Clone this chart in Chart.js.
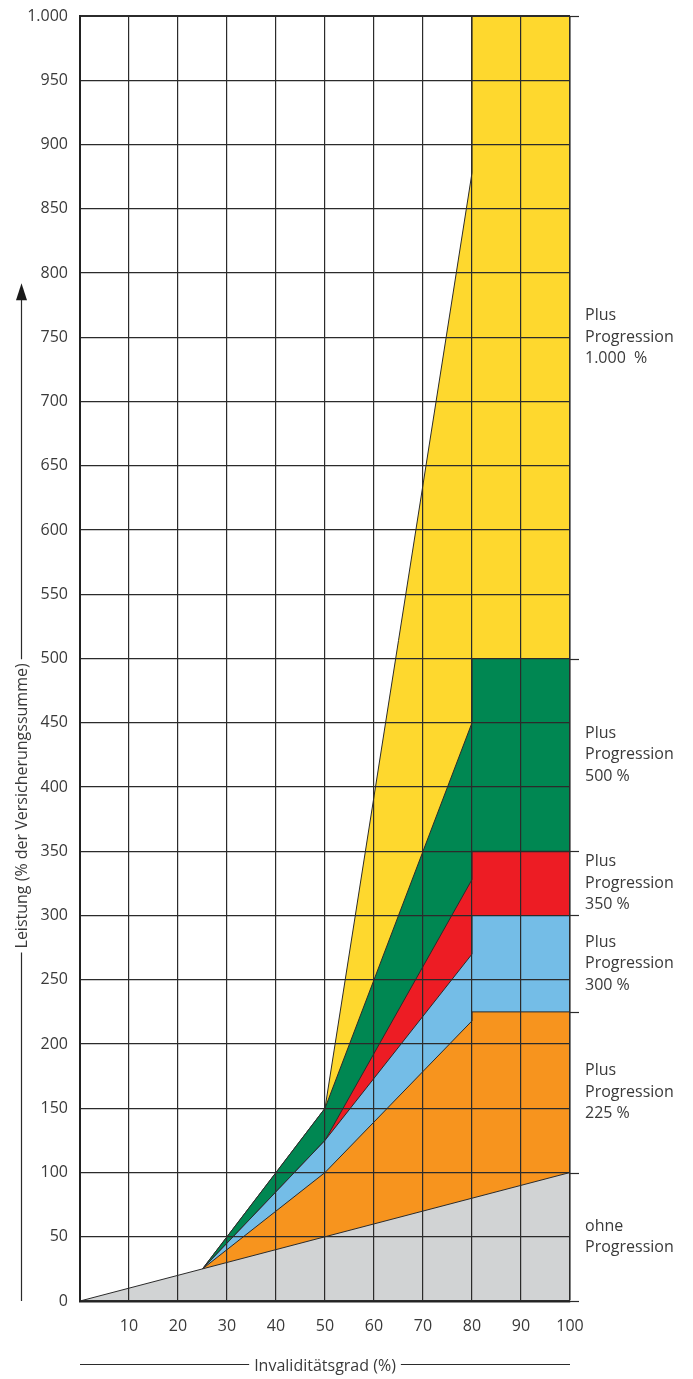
<!DOCTYPE html>
<html>
<head>
<meta charset="utf-8">
<script src="https://cdn.jsdelivr.net/npm/chart.js@4/dist/chart.umd.min.js"></script>
<style>
  html, body { margin: 0; padding: 0; background: #fff; }
  #chart { display: block; }
</style>
</head>
<body>
<canvas id="chart" width="693" height="1379"></canvas>
<script>
'use strict';

// x positions (Invaliditätsgrad %) shared by the progression layers
var progX = [25, 50, 80, 80, 100];

// layer tops (Leistung % der Versicherungssumme)
var ohneX = [0, 100];
var ohneY = [0, 100];
var p225Y = [25, 100, 218, 225, 225];
var p300Y = [25, 125, 270, 300, 300];
var p350Y = [25, 125, 328, 350, 350];
var p500Y = [25, 150, 450, 500, 500];
var p1000Y = [25, 150, 878, 1000, 1000];

// tick labels
var xTicks = [10, 20, 30, 40, 50, 60, 70, 80, 90, 100];

// right-hand band labels and their band limits
var bandLimits = [0, 100, 225, 300, 350, 500, 1000];
var bandLabels = [
    ['ohne', 'Progression'],
    ['Plus', 'Progression', '225 %'],
    ['Plus', 'Progression', '300 %'],
    ['Plus', 'Progression', '350 %'],
    ['Plus', 'Progression', '500 %'],
    ['Plus', 'Progression', '1.000  %']
];

var textColor = '#3a3a3a',
    lineColor = '#2b2b2b',
    font = '"Open Sans", "DejaVu Sans", sans-serif';

function points(xs, ys) {
    return xs.map(function (x, i) { return { x: x, y: ys[i] }; });
}

function layer(data, color) {
    return {
        data: data,
        backgroundColor: color,
        borderColor: lineColor,
        borderWidth: 1,
        fill: 'origin',
        pointRadius: 0,
        tension: 0
    };
}

// extra drawing: band labels, right ticks, axis titles
var decor = {
    id: 'decor',
    afterDraw: function (chart) {
        var ctx = chart.ctx,
            area = chart.chartArea,
            yScale = chart.scales.y;

        ctx.save();
        ctx.strokeStyle = lineColor;
        ctx.lineWidth = 1.2;

        // short ticks right of the plot at band limits
        bandLimits.forEach(function (v) {
            var py = Math.round(yScale.getPixelForValue(v)) + 0.5;
            ctx.beginPath();
            ctx.moveTo(area.right, py);
            ctx.lineTo(area.right + 9, py);
            ctx.stroke();
        });

        // band labels
        ctx.fillStyle = textColor;
        ctx.font = '16px ' + font;
        ctx.textAlign = 'left';
        ctx.textBaseline = 'middle';
        var lh = 21.5;
        bandLabels.forEach(function (lines, i) {
            var mid = yScale.getPixelForValue((bandLimits[i] + bandLimits[i + 1]) / 2);
            var top = mid - (lines.length - 1) * lh / 2;
            lines.forEach(function (t, j) {
                ctx.fillText(t, area.right + 15, top + j * lh);
            });
        });

        // x axis title with lines either side
        ctx.font = '16px ' + font;
        ctx.textAlign = 'center';
        var xt = 'Invaliditätsgrad (%)',
            cx = (area.left + area.right) / 2,
            cy = area.bottom + 65,
            w = ctx.measureText(xt).width;
        ctx.fillText(xt, cx, cy);
        ctx.beginPath();
        ctx.moveTo(area.left, cy - 1.5);
        ctx.lineTo(cx - w / 2 - 5, cy - 1.5);
        ctx.moveTo(cx + w / 2 + 5, cy - 1.5);
        ctx.lineTo(area.right, cy - 1.5);
        ctx.stroke();

        // y axis title, rotated, with line and arrow
        var yt = 'Leistung (% der Versicherungssumme)',
            tx = 22,
            ty = area.top + (area.bottom - area.top) * 0.6147;
        w = ctx.measureText(yt).width;
        ctx.save();
        ctx.translate(tx, ty);
        ctx.rotate(-Math.PI / 2);
        ctx.fillText(yt, 0, 0);
        ctx.restore();
        var arrowTip = area.top + (area.bottom - area.top) * 0.208;
        ctx.beginPath();
        ctx.moveTo(tx - 0.5, area.bottom);
        ctx.lineTo(tx - 0.5, ty + w / 2 + 4);
        ctx.moveTo(tx - 0.5, ty - w / 2 - 4);
        ctx.lineTo(tx - 0.5, arrowTip + 10);
        ctx.stroke();
        ctx.fillStyle = '#1a1a1a';
        ctx.beginPath();
        ctx.moveTo(tx - 0.5, arrowTip);
        ctx.lineTo(tx - 6, arrowTip + 17);
        ctx.lineTo(tx + 5, arrowTip + 17);
        ctx.closePath();
        ctx.fill();
        ctx.restore();
    }
};

var ctx = document.getElementById('chart').getContext('2d');
var chart = new Chart(ctx, {
    type: 'line',
    data: {
        datasets: [
            layer(points(ohneX, ohneY), '#d1d3d4'),
            layer(points(progX, p225Y), '#f7941e'),
            layer(points(progX, p300Y), '#74bde7'),
            layer(points(progX, p350Y), '#ed1c24'),
            layer(points(progX, p500Y), '#008752'),
            layer(points(progX, p1000Y), '#fed82e')
        ]
    },
    options: {
        responsive: false,
        animation: false,
        layout: { padding: { top: 16, right: 123, left: 0, bottom: 0 } },
        plugins: {
            legend: { display: false },
            tooltip: { enabled: false }
        },
        scales: {
            x: {
                type: 'linear',
                min: 0,
                max: 100,
                afterFit: function (scale) { scale.height = 78; },
                afterBuildTicks: function (scale) {
                    scale.ticks = [{ value: 0 }].concat(xTicks.map(function (v) { return { value: v }; }));
                },
                ticks: {
                    padding: 16,
                    color: textColor,
                    font: { family: font, size: 16 },
                    callback: function (v) { return v === 0 ? '' : v; }
                },
                grid: {
                    z: 1,
                    drawTicks: false,
                    color: lineColor,
                    lineWidth: function (c) { return c.tick && c.tick.value === 100 ? 1.6 : 1.2; }
                },
                border: { z: 1, color: '#222', width: 2.5 }
            },
            y: {
                min: 0,
                max: 1000,
                afterFit: function (scale) {
                    scale.width = 80;
                    scale.paddingTop = 0;
                    scale.paddingBottom = 0;
                },
                ticks: {
                    stepSize: 50,
                    padding: 12,
                    color: textColor,
                    font: { family: font, size: 16 },
                    callback: function (v) { return v >= 1000 ? '1.000' : String(v); }
                },
                grid: {
                    z: 1,
                    drawTicks: false,
                    color: lineColor,
                    lineWidth: function (c) { return c.tick && c.tick.value === 1000 ? 2 : 1.2; }
                },
                border: { z: 1, color: '#222', width: 2 }
            }
        }
    },
    plugins: [decor]
});
</script>
</body>
</html>
